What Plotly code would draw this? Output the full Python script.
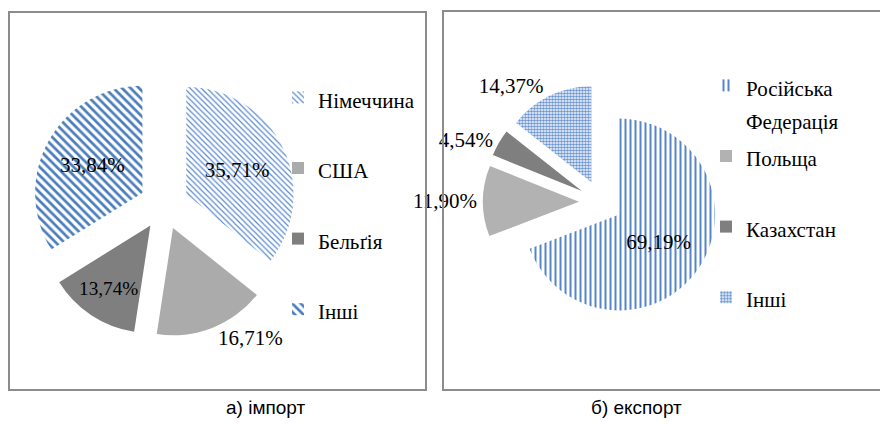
import plotly.graph_objects as go

# імпорт
import_countries = ["Німеччина", "США", "Бельґія", "Інші"]
import_shares = [35.71, 16.71, 13.74, 33.84]

# експорт
export_countries = ["Російська Федерація", "Польща", "Казахстан", "Інші"]
export_shares = [69.19, 11.90, 4.54, 14.37]

captions = ["а) імпорт", "б) експорт"]

# the page body has an 8px margin, so the figure is made 8px smaller
# and positions below are given in page pixels and shifted back
OFF = 8
W, H = 888 - OFF, 424 - OFF
SERIF = "Liberation Serif, Times New Roman, serif"


def pct(v):
    return f"{v:.2f}%".replace(".", ",")


def legend_label(name, pad=" "):
    # two lines per entry (legend font is large, visible text smaller) so the
    # items are spaced out like in the original
    if " " in name:
        txt = name.replace(" ", "<br>")
    else:
        txt = name + "<br>" + pad
    return '<span style="font-size:21px">' + txt + "</span>"


def px_x(v):
    return (v - OFF) / W


def px_y(v):
    return 1 - (v - OFF) / H


fig = go.Figure()

fig.add_trace(go.Pie(
    labels=[legend_label(c) for c in import_countries],
    values=import_shares,
    text=[pct(v) for v in import_shares],
    textinfo="text",
    textposition=["inside", "outside", "inside", "inside"],
    insidetextorientation="horizontal",
    textfont=dict(family=SERIF, size=21, color="black"),
    sort=False, direction="clockwise", rotation=0,
    pull=0.23,
    marker=dict(
        colors=["#ffffff", "#ababab", "#7f7f7f", "#ffffff"],
        line=dict(width=0),
        pattern=dict(
            shape=["\\", "", "", "\\"],
            fgcolor=["#5a8ad0", "#ababab", "#7f7f7f", "#4a7ebb"],
            bgcolor=["#ffffff", "#ababab", "#7f7f7f", "#ffffff"],
            size=[4, 8, 8, 6],
            solidity=[0.3, 0.5, 0.5, 0.45],
            fillmode="replace",
        ),
    ),
    domain=dict(x=[px_x(32), px_x(296)], y=[px_y(337), px_y(73)]),
    hoverinfo="skip",
    legend="legend",
))

fig.add_trace(go.Pie(
    # "&nbsp;" keeps the export labels distinct from the import ones
    labels=[legend_label(c, "&nbsp;") for c in export_countries],
    values=export_shares,
    text=[pct(v) for v in export_shares],
    textinfo="text",
    textposition=["inside", "outside", "outside", "outside"],
    insidetextorientation="horizontal",
    textfont=dict(family=SERIF, size=21, color="black"),
    sort=False, direction="clockwise", rotation=0,
    pull=0.23,
    marker=dict(
        colors=["#ffffff", "#b2b2b2", "#7f7f7f", "#ffffff"],
        line=dict(width=0),
        pattern=dict(
            shape=["|", "", "", "."],
            fgcolor=["#5585c8", "#b2b2b2", "#7f7f7f", "#6a95d2"],
            bgcolor=["#ffffff", "#b2b2b2", "#7f7f7f", "#ffffff"],
            size=[5, 8, 8, 3],
            solidity=[0.4, 0.5, 0.5, 0.6],
            fillmode="replace",
        ),
    ),
    domain=dict(x=[px_x(483), px_x(719)], y=[px_y(320), px_y(84)]),
    hoverinfo="skip",
    legend="legend2",
))

# panel frames
fig.add_shape(type="rect", xref="paper", yref="paper",
              x0=px_x(9), x1=px_x(426), y0=px_y(390), y1=px_y(12),
              line=dict(color="#8c8c8c", width=2))
fig.add_shape(type="rect", xref="paper", yref="paper",
              x0=px_x(443), x1=px_x(895), y0=px_y(390), y1=px_y(11),
              line=dict(color="#8c8c8c", width=2))

# captions
for cx, txt in zip([265, 636], captions):
    fig.add_annotation(x=px_x(cx), y=px_y(407), xref="paper", yref="paper",
                       xanchor="center", yanchor="middle",
                       text=txt, showarrow=False,
                       font=dict(family="Liberation Sans, Arial, sans-serif", size=19, color="black"))

legend_style = dict(font=dict(family=SERIF, size=26, color="black"),
                    bgcolor="rgba(0,0,0,0)", valign="top", maxheight=400,
                    xanchor="left", yanchor="top", traceorder="normal")

fig.update_layout(
    width=W, height=H,
    margin=dict(l=0, r=0, t=0, b=0, autoexpand=False),
    paper_bgcolor="white", plot_bgcolor="white",
    legend=dict(x=px_x(278), y=px_y(74), **legend_style),
    legend2=dict(x=px_x(706), y=px_y(62), **legend_style),
    showlegend=True,
)

fig.write_html("out.html")
